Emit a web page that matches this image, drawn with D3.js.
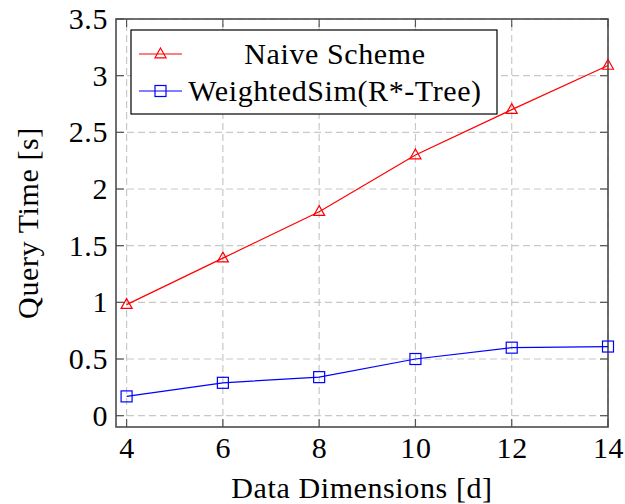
<!DOCTYPE html>
<html>
<head>
<meta charset="utf-8">
<script src="https://cdn.jsdelivr.net/npm/d3@7/dist/d3.min.js"></script>
<style>
  body { margin: 0; background: #fff; }
  text { font-family: "Liberation Serif", serif; fill: #000; letter-spacing: 0.6px; }
</style>
</head>
<body>
<svg id="chart" width="625" height="504"></svg>
<script>
var dims = [4, 6, 8, 10, 12, 14];
var naiveTimes = [0.98, 1.39, 1.8, 2.3, 2.7, 3.09];
var weightedTimes = [0.17, 0.29, 0.34, 0.5, 0.6, 0.61];
var xTicks = [4, 6, 8, 10, 12, 14];
var yTicks = [0, 0.5, 1, 1.5, 2, 2.5, 3, 3.5];
var seriesNames = ["Naive Scheme", "WeightedSim(R*-Tree)"];

function drawChart() {
    var svg = d3.select("#chart"),
        margins = { top: 19, right: 17, bottom: 77, left: 116 },
        width = 625, height = 504,
        fontSize = 30,
        xRange = d3.scaleLinear().domain([3.78, 14]).range([margins.left, width - margins.right]),
        yRange = d3.scaleLinear().domain([-0.1, 3.5]).range([height - margins.bottom, margins.top]);

    var x0 = margins.left, x1 = width - margins.right,
        y0 = height - margins.bottom, y1 = margins.top;

    // dashed grid
    var grid = svg.append("g")
        .attr("stroke", "#c8c8c8")
        .attr("stroke-width", 1.2)
        .attr("stroke-dasharray", "7,4");
    grid.selectAll(".vg").data(xTicks).enter().append("line")
        .attr("x1", function (d) { return xRange(d); })
        .attr("x2", function (d) { return xRange(d); })
        .attr("y1", y0).attr("y2", y1);
    grid.selectAll(".hg").data(yTicks).enter().append("line")
        .attr("y1", function (d) { return yRange(d); })
        .attr("y2", function (d) { return yRange(d); })
        .attr("x1", x0).attr("x2", x1);

    // inner tick marks on all four sides
    var tl = 8;
    var ticks = svg.append("g").attr("stroke", "#555").attr("stroke-width", 1.2);
    xTicks.forEach(function (t) {
        var xp = xRange(t);
        ticks.append("line").attr("x1", xp).attr("x2", xp).attr("y1", y0).attr("y2", y0 - tl);
        ticks.append("line").attr("x1", xp).attr("x2", xp).attr("y1", y1).attr("y2", y1 + tl);
    });
    yTicks.forEach(function (t) {
        var yp = yRange(t);
        ticks.append("line").attr("y1", yp).attr("y2", yp).attr("x1", x0).attr("x2", x0 + tl);
        ticks.append("line").attr("y1", yp).attr("y2", yp).attr("x1", x1).attr("x2", x1 - tl);
    });

    // axes for the labels
    var xAxis = d3.axisBottom(xRange).tickValues(xTicks).tickSize(0).tickPadding(10).tickFormat(d3.format("d")),
        yAxis = d3.axisLeft(yRange).tickValues(yTicks).tickSize(0).tickPadding(8).tickFormat(function (d) { return String(d); });

    var gx = svg.append("g").attr("transform", "translate(0," + y0 + ")").call(xAxis);
    var gy = svg.append("g").attr("transform", "translate(" + x0 + ",0)").call(yAxis);
    [gx, gy].forEach(function (g) {
        g.select(".domain").remove();
        g.selectAll("text").attr("font-family", "Liberation Serif, serif").attr("font-size", fontSize).attr("fill", "#000");
    });

    // frame
    svg.append("rect")
        .attr("x", x0).attr("y", y1)
        .attr("width", x1 - x0).attr("height", y0 - y1)
        .attr("fill", "none").attr("stroke", "#4d4d4d").attr("stroke-width", 1.6);

    var lineFunc = d3.line()
        .x(function (d) { return xRange(d.x); })
        .y(function (d) { return yRange(d.y); });

    function points(vals) {
        return dims.map(function (d, i) { return { x: d, y: vals[i] }; });
    }

    function triangle(g, cx, cy) {
        g.append("path").attr("d", "M0,-6L5.5,3.8L-5.5,3.8Z")
            .attr("transform", "translate(" + cx + "," + cy + ")")
            .attr("fill", "none").attr("stroke", "red").attr("stroke-width", 1.2);
    }
    function square(g, cx, cy) {
        g.append("rect").attr("x", cx - 5.5).attr("y", cy - 5.5)
            .attr("width", 11).attr("height", 11)
            .attr("fill", "none").attr("stroke", "blue").attr("stroke-width", 1.2);
    }

    var naive = points(naiveTimes), weighted = points(weightedTimes);

    svg.append("path").attr("d", lineFunc(naive))
        .attr("stroke", "red").attr("stroke-width", 1.2).attr("fill", "none");
    var gn = svg.append("g");
    naive.forEach(function (p) { triangle(gn, xRange(p.x), yRange(p.y)); });

    svg.append("path").attr("d", lineFunc(weighted))
        .attr("stroke", "blue").attr("stroke-width", 1.2).attr("fill", "none");
    var gw = svg.append("g");
    weighted.forEach(function (p) { square(gw, xRange(p.x), yRange(p.y)); });

    // legend
    var lg = svg.append("g");
    lg.append("rect").attr("x", 131).attr("y", 30).attr("width", 366).attr("height", 84)
        .attr("fill", "#fff").attr("stroke", "#000").attr("stroke-width", 1.2);
    var rows = [54, 91];
    lg.append("line").attr("x1", 139).attr("x2", 182).attr("y1", rows[0]).attr("y2", rows[0])
        .attr("stroke", "red").attr("stroke-width", 1.2);
    triangle(lg, 160.5, rows[0]);
    lg.append("line").attr("x1", 139).attr("x2", 182).attr("y1", rows[1]).attr("y2", rows[1])
        .attr("stroke", "blue").attr("stroke-width", 1.2);
    square(lg, 160.5, rows[1]);
    seriesNames.forEach(function (n, i) {
        lg.append("text").attr("x", 335).attr("y", rows[i]).attr("dy", "0.33em")
            .attr("text-anchor", "middle").attr("font-size", fontSize).text(n);
    });

    // axis titles
    svg.append("text").attr("x", (x0 + x1) / 2).attr("y", 498)
        .attr("text-anchor", "middle").attr("font-size", fontSize).text("Data Dimensions [d]");
    svg.append("text")
        .attr("transform", "translate(38," + ((y0 + y1) / 2) + ") rotate(-90)")
        .attr("text-anchor", "middle").attr("font-size", fontSize).text("Query Time [s]");
}

drawChart();
</script>
</body>
</html>
